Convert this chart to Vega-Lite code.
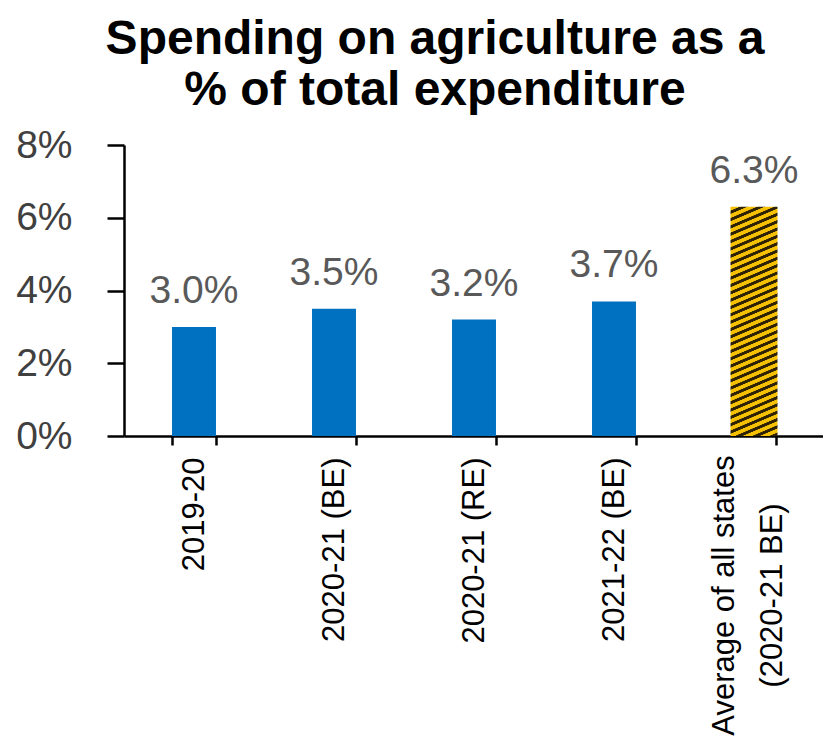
{
  "$schema": "https://vega.github.io/schema/vega-lite/v6.json",
  "autosize": {"type": "none"},
  "padding": {"left": 124, "top": 145, "right": 0, "bottom": 304},
  "width": 700,
  "height": 291,
  "background": "white",
  "title": {
    "text": ["Spending on agriculture as a", "% of total expenditure"],
    "font": "Liberation Sans",
    "fontSize": 48,
    "fontWeight": "bold",
    "color": "black",
    "lineHeight": 51,
    "anchor": "middle",
    "frame": "group",
    "dx": -39,
    "offset": 11
  },
  "data": {
    "values": [
      {"period": "2019-20", "share": 0.030, "kind": "state"},
      {"period": "2020-21 (BE)", "share": 0.035, "kind": "state"},
      {"period": "2020-21 (RE)", "share": 0.032, "kind": "state"},
      {"period": "2021-22 (BE)", "share": 0.037, "kind": "state"},
      {"period": "Average of all states (2020-21 BE)", "share": 0.063, "kind": "average"}
    ]
  },
  "encoding": {
    "x": {
      "field": "period",
      "type": "nominal",
      "sort": null,
      "scale": {"paddingInner": 0.686, "paddingOuter": 0.343},
      "axis": {
        "title": null,
        "labelAngle": -90,
        "labelFont": "Liberation Sans",
        "labelFontSize": 31,
        "labelColor": "black",
        "labelPadding": {"condition": {"test": "datum.value === 'Average of all states (2020-21 BE)'", "value": 150}, "value": 12},
        "labelAlign": {"condition": {"test": "datum.value === 'Average of all states (2020-21 BE)'", "value": "center"}, "value": "right"},
        "labelOffset": {"condition": {"test": "datum.value === 'Average of all states (2020-21 BE)'", "value": -30}, "value": 0},
        "labelExpr": "datum.value === 'Average of all states (2020-21 BE)' ? ['Average of all states', '(2020-21 BE)'] : datum.label",
        "labelLineHeight": 48,
        "labelLimit": 0,
        "labelOverlap": false,
        "tickBand": "extent",
        "tickSize": 9,
        "tickWidth": 2.5,
        "tickColor": "black",
        "domainColor": "black",
        "domainWidth": 2.5
      }
    },
    "y": {
      "field": "share",
      "type": "quantitative",
      "scale": {"domain": [0, 0.08], "nice": false, "zero": true},
      "axis": {
        "title": null,
        "values": [0, 0.02, 0.04, 0.06, 0.08],
        "format": ".0%",
        "grid": false,
        "domainColor": "black",
        "domainWidth": 2.5,
        "tickColor": "black",
        "tickWidth": 2.5,
        "tickSize": 17,
        "labelFont": "Liberation Sans",
        "labelFontSize": 39,
        "labelColor": "#404040",
        "labelPadding": 35
      }
    }
  },
  "layer": [
    {
      "transform": [{"filter": "datum.kind === 'state'"}],
      "mark": {"type": "bar", "color": "#0070C0"}
    },
    {
      "transform": [{"filter": "datum.kind === 'average'"}],
      "mark": {
        "type": "bar",
        "width": 47,
        "color": {
          "gradient": "linear",
          "x1": 0, "y1": 0, "x2": 0.0942, "y2": 1.079,
          "stops": [
            {"offset": 0, "color": "#F5C000"}, {"offset": 0.0145, "color": "#F5C000"}, {"offset": 0.0165, "color": "#2E2200"}, {"offset": 0.0275, "color": "#2E2200"},
            {"offset": 0.0294, "color": "#F5C000"}, {"offset": 0.0439, "color": "#F5C000"}, {"offset": 0.0459, "color": "#2E2200"}, {"offset": 0.0569, "color": "#2E2200"},
            {"offset": 0.0588, "color": "#F5C000"}, {"offset": 0.0733, "color": "#F5C000"}, {"offset": 0.0753, "color": "#2E2200"}, {"offset": 0.0863, "color": "#2E2200"},
            {"offset": 0.0882, "color": "#F5C000"}, {"offset": 0.1027, "color": "#F5C000"}, {"offset": 0.1047, "color": "#2E2200"}, {"offset": 0.1157, "color": "#2E2200"},
            {"offset": 0.1176, "color": "#F5C000"}, {"offset": 0.1321, "color": "#F5C000"}, {"offset": 0.1341, "color": "#2E2200"}, {"offset": 0.1451, "color": "#2E2200"},
            {"offset": 0.1471, "color": "#F5C000"}, {"offset": 0.1616, "color": "#F5C000"}, {"offset": 0.1636, "color": "#2E2200"}, {"offset": 0.1746, "color": "#2E2200"},
            {"offset": 0.1765, "color": "#F5C000"}, {"offset": 0.191, "color": "#F5C000"}, {"offset": 0.193, "color": "#2E2200"}, {"offset": 0.204, "color": "#2E2200"},
            {"offset": 0.2059, "color": "#F5C000"}, {"offset": 0.2204, "color": "#F5C000"}, {"offset": 0.2224, "color": "#2E2200"}, {"offset": 0.2334, "color": "#2E2200"},
            {"offset": 0.2353, "color": "#F5C000"}, {"offset": 0.2498, "color": "#F5C000"}, {"offset": 0.2518, "color": "#2E2200"}, {"offset": 0.2628, "color": "#2E2200"},
            {"offset": 0.2647, "color": "#F5C000"}, {"offset": 0.2792, "color": "#F5C000"}, {"offset": 0.2812, "color": "#2E2200"}, {"offset": 0.2922, "color": "#2E2200"},
            {"offset": 0.2941, "color": "#F5C000"}, {"offset": 0.3086, "color": "#F5C000"}, {"offset": 0.3106, "color": "#2E2200"}, {"offset": 0.3216, "color": "#2E2200"},
            {"offset": 0.3235, "color": "#F5C000"}, {"offset": 0.338, "color": "#F5C000"}, {"offset": 0.34, "color": "#2E2200"}, {"offset": 0.351, "color": "#2E2200"},
            {"offset": 0.3529, "color": "#F5C000"}, {"offset": 0.3674, "color": "#F5C000"}, {"offset": 0.3694, "color": "#2E2200"}, {"offset": 0.3804, "color": "#2E2200"},
            {"offset": 0.3824, "color": "#F5C000"}, {"offset": 0.3969, "color": "#F5C000"}, {"offset": 0.3989, "color": "#2E2200"}, {"offset": 0.4099, "color": "#2E2200"},
            {"offset": 0.4118, "color": "#F5C000"}, {"offset": 0.4263, "color": "#F5C000"}, {"offset": 0.4283, "color": "#2E2200"}, {"offset": 0.4393, "color": "#2E2200"},
            {"offset": 0.4412, "color": "#F5C000"}, {"offset": 0.4557, "color": "#F5C000"}, {"offset": 0.4577, "color": "#2E2200"}, {"offset": 0.4687, "color": "#2E2200"},
            {"offset": 0.4706, "color": "#F5C000"}, {"offset": 0.4851, "color": "#F5C000"}, {"offset": 0.4871, "color": "#2E2200"}, {"offset": 0.4981, "color": "#2E2200"},
            {"offset": 0.5, "color": "#F5C000"}, {"offset": 0.5145, "color": "#F5C000"}, {"offset": 0.5165, "color": "#2E2200"}, {"offset": 0.5275, "color": "#2E2200"},
            {"offset": 0.5294, "color": "#F5C000"}, {"offset": 0.5439, "color": "#F5C000"}, {"offset": 0.5459, "color": "#2E2200"}, {"offset": 0.5569, "color": "#2E2200"},
            {"offset": 0.5588, "color": "#F5C000"}, {"offset": 0.5733, "color": "#F5C000"}, {"offset": 0.5753, "color": "#2E2200"}, {"offset": 0.5863, "color": "#2E2200"},
            {"offset": 0.5882, "color": "#F5C000"}, {"offset": 0.6027, "color": "#F5C000"}, {"offset": 0.6047, "color": "#2E2200"}, {"offset": 0.6157, "color": "#2E2200"},
            {"offset": 0.6176, "color": "#F5C000"}, {"offset": 0.6321, "color": "#F5C000"}, {"offset": 0.6341, "color": "#2E2200"}, {"offset": 0.6451, "color": "#2E2200"},
            {"offset": 0.6471, "color": "#F5C000"}, {"offset": 0.6616, "color": "#F5C000"}, {"offset": 0.6636, "color": "#2E2200"}, {"offset": 0.6746, "color": "#2E2200"},
            {"offset": 0.6765, "color": "#F5C000"}, {"offset": 0.691, "color": "#F5C000"}, {"offset": 0.693, "color": "#2E2200"}, {"offset": 0.704, "color": "#2E2200"},
            {"offset": 0.7059, "color": "#F5C000"}, {"offset": 0.7204, "color": "#F5C000"}, {"offset": 0.7224, "color": "#2E2200"}, {"offset": 0.7334, "color": "#2E2200"},
            {"offset": 0.7353, "color": "#F5C000"}, {"offset": 0.7498, "color": "#F5C000"}, {"offset": 0.7518, "color": "#2E2200"}, {"offset": 0.7628, "color": "#2E2200"},
            {"offset": 0.7647, "color": "#F5C000"}, {"offset": 0.7792, "color": "#F5C000"}, {"offset": 0.7812, "color": "#2E2200"}, {"offset": 0.7922, "color": "#2E2200"},
            {"offset": 0.7941, "color": "#F5C000"}, {"offset": 0.8086, "color": "#F5C000"}, {"offset": 0.8106, "color": "#2E2200"}, {"offset": 0.8216, "color": "#2E2200"},
            {"offset": 0.8235, "color": "#F5C000"}, {"offset": 0.838, "color": "#F5C000"}, {"offset": 0.84, "color": "#2E2200"}, {"offset": 0.851, "color": "#2E2200"},
            {"offset": 0.8529, "color": "#F5C000"}, {"offset": 0.8674, "color": "#F5C000"}, {"offset": 0.8694, "color": "#2E2200"}, {"offset": 0.8804, "color": "#2E2200"},
            {"offset": 0.8824, "color": "#F5C000"}, {"offset": 0.8969, "color": "#F5C000"}, {"offset": 0.8989, "color": "#2E2200"}, {"offset": 0.9099, "color": "#2E2200"},
            {"offset": 0.9118, "color": "#F5C000"}, {"offset": 0.9263, "color": "#F5C000"}, {"offset": 0.9283, "color": "#2E2200"}, {"offset": 0.9393, "color": "#2E2200"},
            {"offset": 0.9412, "color": "#F5C000"}, {"offset": 0.9557, "color": "#F5C000"}, {"offset": 0.9577, "color": "#2E2200"}, {"offset": 0.9687, "color": "#2E2200"},
            {"offset": 0.9706, "color": "#F5C000"}, {"offset": 0.9851, "color": "#F5C000"}, {"offset": 0.9871, "color": "#2E2200"}, {"offset": 0.9981, "color": "#2E2200"},
            {"offset": 1, "color": "#F5C000"}
          ]
        }
      }
    },
    {
      "mark": {
        "type": "text",
        "baseline": "alphabetic",
        "dy": -24,
        "fontSize": 39,
        "font": "Liberation Sans",
        "color": "#595959"
      },
      "encoding": {
        "text": {"field": "share", "type": "quantitative", "format": ".1%"}
      }
    }
  ],
  "config": {"view": {"stroke": null}}
}
